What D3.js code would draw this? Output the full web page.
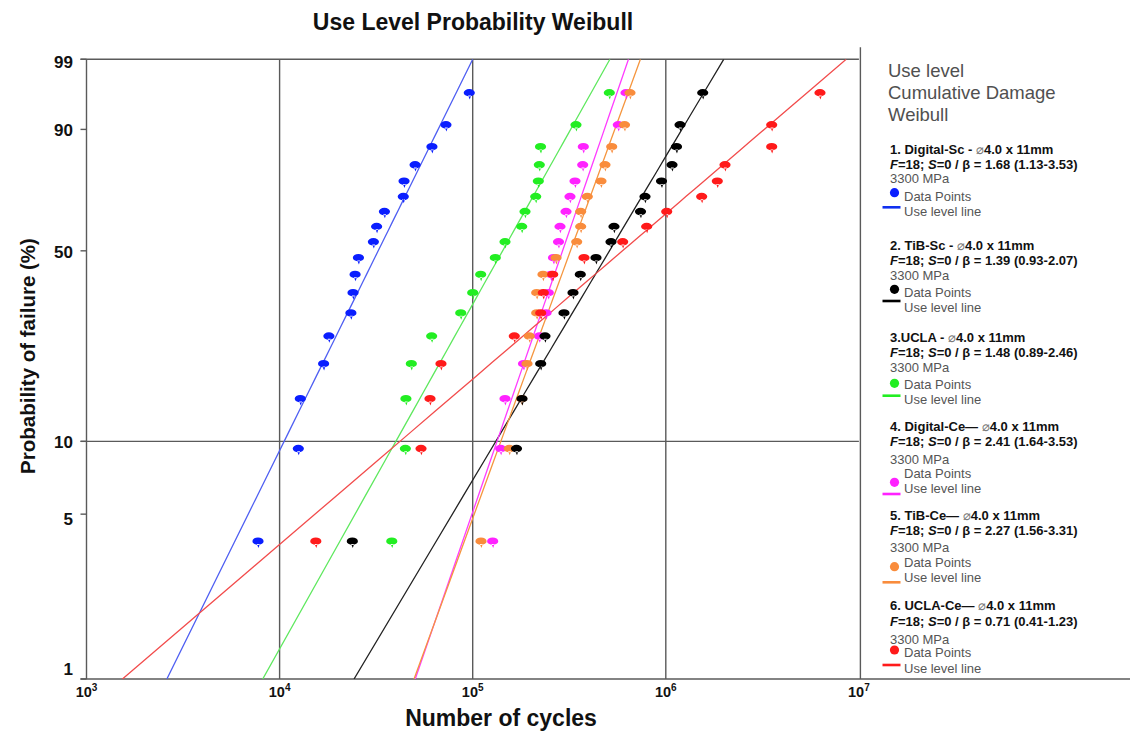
<!DOCTYPE html>
<html>
<head>
<meta charset="utf-8">
<script src="https://cdn.jsdelivr.net/npm/d3@7"></script>
<style>
  body { margin: 0; background: #fff; }
  text { font-family: "Liberation Sans", Arial, Helvetica, sans-serif; }
</style>
</head>
<body>
<svg id="chart" width="1130" height="731"></svg>
<script>
// ---- data ---------------------------------------------------------------
const seriesKeys   = ["digitalSc", "tibSc", "ucla", "digitalCe", "tibCe", "uclaCe"];
const legendTitles = ["1. Digital-Sc - ", "2. TiB-Sc - ", "3.UCLA - ", "4. Digital-Ce\u2014 ", "5. TiB-Ce\u2014 ", "6. UCLA-Ce\u2014 "];
const betas        = [1.68, 1.39, 1.48, 2.41, 2.27, 0.71];
const betaBounds   = ["1.13-3.53", "0.93-2.07", "0.89-2.46", "1.64-3.53", "1.56-3.31", "0.41-1.23"];
const etas         = [40300, 665000, 183000, 340000, 377000, 1000000];   // Weibull scale (cycles)
const failures     = 18;
const stress       = "3300 MPa";

// median-rank unreliability (%) of the 18 ordered failures
const rankProbs = [3.804, 9.239, 14.674, 20.109, 25.543, 30.978, 36.413, 41.848, 47.283,
                   52.717, 58.152, 63.587, 69.022, 74.457, 79.891, 85.326, 90.761, 96.196];

// ordered cycles to failure for each group
const cyclesDigitalSc = [7730, 12500, 12800, 16900, 18000, 23400, 24000, 24600, 25600,
                         30600, 31800, 34900, 43700, 44100, 50300, 61500, 72700, 96000];
const cyclesTibSc     = [23800, 168600, 180000, 225000, 236800, 297000, 330700, 360700, 435000,
                         520200, 539100, 739600, 780400, 950200, 1077000, 1136000, 1185000, 1553000];
const cyclesUcla      = [38100, 44800, 45100, 48100, 61300, 86700, 100000, 110000, 130900,
                         147000, 179400, 186600, 212000, 218700, 221300, 224500, 342700, 509900];
const cyclesDigitalCe = [126900, 139600, 147000, 183300, 221300, 239700, 246300, 254400, 262100,
                         278200, 283200, 304200, 319000, 338700, 371200, 373900, 567500, 622200];
const cyclesTibCe     = [110400, 154700, 179400, 191100, 196400, 214500, 214500, 231200, 270100,
                         345600, 362400, 362400, 392200, 461700, 484300, 524600, 611200, 652500];
const cyclesUclaCe    = [15400, 54000, 60100, 68500, 164200, 225000, 232100, 259600, 377000,
                         598000, 796000, 1011000, 1534000, 1848000, 2026000, 3535000, 3535000, 6287000];

const seriesCycles = [cyclesDigitalSc, cyclesTibSc, cyclesUcla, cyclesDigitalCe, cyclesTibCe, cyclesUclaCe];

const xTickValues = [1e3, 1e4, 1e5, 1e6, 1e7];
const yTickValues = [99, 90, 50, 10, 5, 1];
const xGridValues = [1e4, 1e5, 1e6];
const yGridValues = [10];

// ---- styling ------------------------------------------------------------
const markerColors  = ["#0a1eff", "#000000", "#22ee22", "#ff22ff", "#f98c3c", "#ff1a1a"];
const lineColors    = ["#4f5ff2", "#222222", "#5ee85e", "#ff3cff", "#f5963f", "#f24c4c"];
const keyLineColors = ["#1030f0", "#000000", "#22ee22", "#ff22ff", "#f98c3c", "#ff1a1a"];
const gridColor = "#5a5a5a";

const plotL = 86.5, plotR = 858.9, plotT = 59.3, plotB = 679;

const svg = d3.select("#chart");

// ---- scales -------------------------------------------------------------
const x = d3.scaleLog().domain([1e3, 1e7]).range([plotL, plotR]);
// Weibull probability paper: linear in ln(-ln(1-F))
const wt = p => Math.log(-Math.log(1 - p / 100));
const yLin = d3.scaleLinear().domain([wt(1), wt(99)]).range([plotB, plotT]);
const y = p => yLin(wt(p));

// ---- grid & frame -------------------------------------------------------
const frame = svg.append("g").attr("stroke", gridColor).attr("stroke-width", 1.4).attr("fill", "none");
frame.selectAll("line.vg").data(xGridValues).join("line")
  .attr("x1", d => x(d)).attr("x2", d => x(d)).attr("y1", plotT).attr("y2", plotB);
frame.selectAll("line.hg").data(yGridValues).join("line")
  .attr("x1", plotL - 6).attr("x2", plotR).attr("y1", d => y(d)).attr("y2", d => y(d));
// plot border
frame.append("line").attr("x1", plotL).attr("x2", plotL).attr("y1", plotT).attr("y2", plotB);
frame.append("line").attr("x1", plotL - 6).attr("x2", plotR).attr("y1", plotT).attr("y2", plotT);
frame.append("line").attr("x1", plotR + 1.5).attr("x2", plotR + 1.5).attr("y1", plotT - 12).attr("y2", plotB);
frame.append("line").attr("x1", plotL - 6).attr("x2", 1130).attr("y1", plotB).attr("y2", plotB);
// y ticks
frame.selectAll("line.yt").data(yTickValues).join("line")
  .attr("x1", plotL - 6).attr("x2", plotL).attr("y1", d => y(d)).attr("y2", d => y(d));

// ---- axis labels --------------------------------------------------------
svg.append("g").selectAll("text").data(yTickValues).join("text")
  .attr("x", 73).attr("y", d => y(d) + (d === 1 ? -10 : d === 5 ? 5 : d === 99 ? 3 : 1))
  .attr("dy", "0.35em").attr("text-anchor", "end")
  .attr("font-size", 17).attr("font-weight", "bold").attr("fill", "#111")
  .text(d => d);

const xl = svg.append("g").selectAll("text").data(xTickValues).join("text")
  .attr("x", d => x(d)).attr("y", 697).attr("text-anchor", "middle")
  .attr("font-size", 14.5).attr("font-weight", "bold").attr("fill", "#111");
xl.append("tspan").text("10");
xl.append("tspan").attr("dy", -6).attr("font-size", 10).text(d => Math.round(Math.log10(d)));

svg.append("text").attr("x", 501).attr("y", 726).attr("text-anchor", "middle")
  .attr("font-size", 23).attr("font-weight", "bold").attr("fill", "#111")
  .text("Number of cycles");
svg.append("text").attr("transform", "translate(35,356) rotate(-90)").attr("text-anchor", "middle")
  .attr("font-size", 20.5).attr("font-weight", "bold").attr("fill", "#111")
  .text("Probability of failure (%)");
svg.append("text").attr("x", 473).attr("y", 30).attr("text-anchor", "middle")
  .attr("font-size", 23).attr("font-weight", "bold").attr("fill", "#111")
  .text("Use Level Probability Weibull");

// ---- fitted use-level lines --------------------------------------------
svg.append("clipPath").attr("id", "plotClip").append("rect")
  .attr("x", plotL).attr("y", plotT).attr("width", plotR - plotL).attr("height", plotB - plotT);

const probGrid = d3.range(0, 41).map(i => 1 + i * (99 - 1) / 40);
const fitLine = d3.line().x(d => x(d[0])).y(d => y(d[1]));
const fits = svg.append("g").attr("clip-path", "url(#plotClip)");
seriesKeys.forEach((key, i) => {
  const pts = probGrid.map(p => [etas[i] * Math.pow(-Math.log(1 - p / 100), 1 / betas[i]), p]);
  fits.append("path").datum(pts).attr("class", "fit-" + key)
    .attr("fill", "none").attr("stroke", lineColors[i]).attr("stroke-width", 1.3)
    .attr("d", fitLine);
});

// ---- data points (pin markers) -----------------------------------------
const pinPath = "M-5.6,-1.2 a5.6,3.7 0 1,0 11.2,0 a5.6,3.7 0 1,0 -11.2,0 Z M-1.2,1.6 L1.8,1.6 L0.5,5.6 Z";
const markOrder = [0, 2, 3, 4, 1, 5];
markOrder.forEach(i => {
  svg.append("g").attr("class", "pts-" + seriesKeys[i])
    .selectAll("path").data(seriesCycles[i].map((c, k) => [c, rankProbs[k]])).join("path")
    .attr("transform", d => `translate(${x(d[0])},${y(d[1])})`)
    .attr("d", pinPath).attr("fill", markerColors[i]);
});

// ---- legend -------------------------------------------------------------
const lx = 890;
const head = svg.append("g").attr("font-size", 18.5).attr("fill", "#505050");
["Use level", "Cumulative Damage", "Weibull"].forEach((t, k) =>
  head.append("text").attr("x", 888).attr("y", 76.5 + k * 22).text(t));

const entryTop   = [149, 245, 337.3, 426, 515, 605.7];
const mpaOffset  = [29.5, 30, 30.4, 33.3, 32.7, 33.6];
const dotOffset  = [43.7, 44.3, 46, 56.3, 51.7, 44.3];
const lineOffset = [58.3, 56, 58.4, 68, 67.3, 59.3];

seriesKeys.forEach((key, i) => {
  const g = svg.append("g").attr("class", "legend-" + key);
  const t0 = entryTop[i];
  const title = g.append("text").attr("x", lx).attr("y", t0 + 4.5)
    .attr("font-size", 13).attr("font-weight", "bold").attr("fill", "#111");
  title.append("tspan").text(legendTitles[i]);
  title.append("tspan").attr("font-weight", "normal").attr("fill", "#777").text("\u2300");
  title.append("tspan").text("4.0 x 11mm");

  const fl = g.append("text").attr("x", lx).attr("y", t0 + 20)
    .attr("font-size", 13).attr("font-weight", "bold").attr("fill", "#111");
  fl.append("tspan").attr("font-style", "italic").text("F");
  fl.append("tspan").text(`=${failures}; `);
  fl.append("tspan").attr("font-style", "italic").text("S");
  fl.append("tspan").text(`=0 / \u03b2 = ${betas[i].toFixed(2)} (${betaBounds[i]})`);

  g.append("text").attr("x", lx).attr("y", t0 + mpaOffset[i] + 4.5)
    .attr("font-size", 13).attr("fill", "#555").text(stress);
  g.append("circle").attr("cx", 894.5).attr("cy", t0 + dotOffset[i]).attr("r", 4.6)
    .attr("fill", markerColors[i]);
  g.append("text").attr("x", 904).attr("y", t0 + 47 + 4.5)
    .attr("font-size", 13).attr("fill", "#555").text("Data Points");
  g.append("line").attr("x1", 882.5).attr("x2", 900.5)
    .attr("y1", t0 + lineOffset[i]).attr("y2", t0 + lineOffset[i])
    .attr("stroke", keyLineColors[i]).attr("stroke-width", 2.6);
  g.append("text").attr("x", 904).attr("y", t0 + 62.5 + 4.5)
    .attr("font-size", 13).attr("fill", "#555").text("Use level line");
});
</script>
</body>
</html>
